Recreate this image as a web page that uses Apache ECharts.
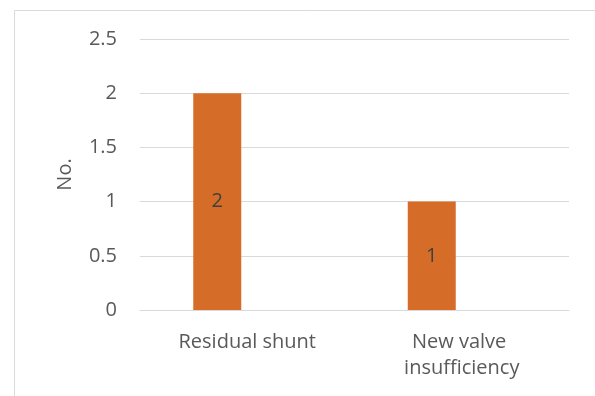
<!DOCTYPE html>
<html>
<head>
<meta charset="utf-8">
<script src="https://cdn.jsdelivr.net/npm/echarts@6/dist/echarts.min.js"></script>
<style>
  html, body { margin: 0; padding: 0; background: #fff; }
  #chart { width: 595px; height: 396px; }
</style>
</head>
<body>
<div id="chart"></div>
<script>
// Complications counted per category
const categories = ['Residual shunt', 'New valve insufficiency'];
const counts = [2, 1];
// Second, empty series keeps the clustered bar position
const emptySeries = [null, null];
const yTicks = { min: 0, max: 2.5, interval: 0.5 };

const textColor = '#595959';
const fontFamily = '"Open Sans", sans-serif';

const chart = echarts.init(document.getElementById('chart'), null, { renderer: 'canvas' });

chart.setOption({
  animation: false,
  backgroundColor: '#ffffff',
  graphic: [{
    type: 'rect',
    shape: { x: 14.5, y: 10.5, width: 620, height: 420 },
    style: { fill: 'none', stroke: '#d9d9d9', lineWidth: 1 },
    silent: true
  }],
  grid: { left: 140, right: 26, top: 39, bottom: 86 },
  xAxis: {
    type: 'category',
    data: categories,
    axisLine: { show: true, lineStyle: { color: '#d9d9d9', width: 1 } },
    axisTick: { show: false },
    axisLabel: {
      color: textColor,
      fontFamily: fontFamily,
      fontSize: 20,
      margin: 19,
      lineHeight: 26,
      width: 180,
      overflow: 'break',
      interval: 0
    }
  },
  yAxis: {
    type: 'value',
    min: yTicks.min,
    max: yTicks.max,
    interval: yTicks.interval,
    name: 'No.',
    nameLocation: 'middle',
    nameGap: 65,
    nameRotate: 90,
    nameTextStyle: { color: textColor, fontFamily: fontFamily, fontSize: 20 },
    axisLine: { show: false },
    axisTick: { show: false },
    splitLine: { lineStyle: { color: '#d9d9d9', width: 1 } },
    axisLabel: {
      color: textColor,
      fontFamily: fontFamily,
      fontSize: 20,
      margin: 23
    }
  },
  series: [
    {
      type: 'bar',
      data: counts,
      barWidth: 48,
      barGap: '25%',
      itemStyle: { color: '#d56d29' },
      label: {
        show: true,
        position: 'inside',
        color: '#404040',
        fontFamily: fontFamily,
        fontSize: 20
      }
    },
    {
      type: 'bar',
      data: emptySeries,
      barWidth: 48,
      barGap: '25%'
    }
  ]
});
</script>
</body>
</html>
